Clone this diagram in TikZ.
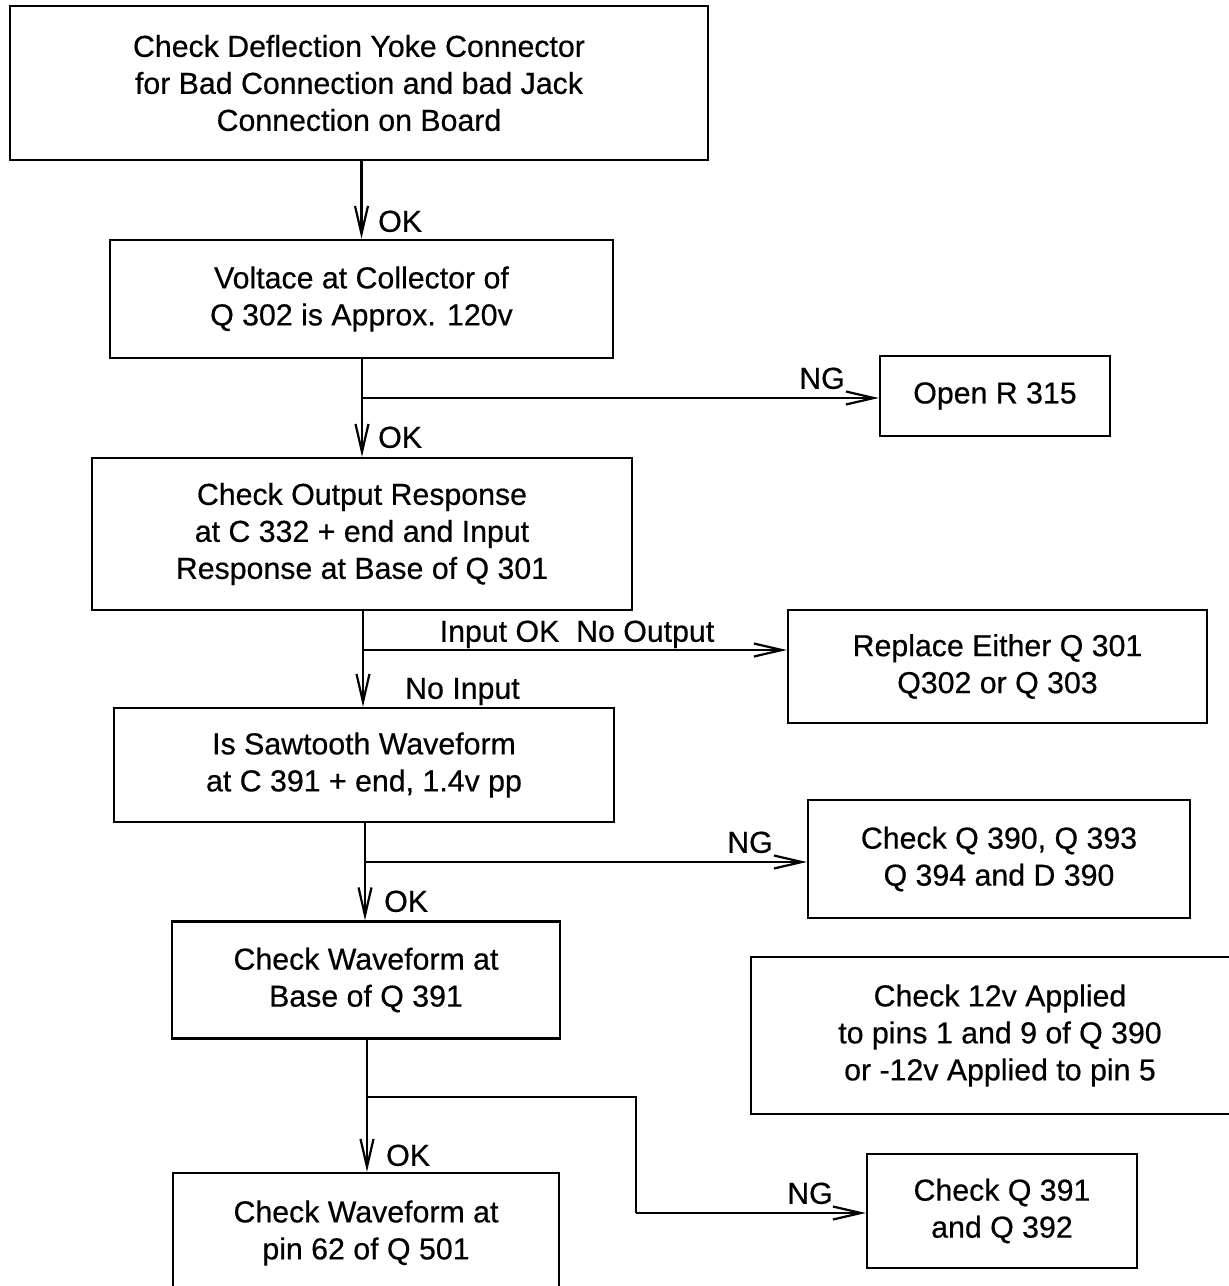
\documentclass[tikz,border=0pt]{standalone}
\usepackage{fontspec}
\setmainfont{Liberation Sans}[UprightFeatures={FakeBold=0.5}]
\usetikzlibrary{arrows.meta}
\begin{document}
\begin{tikzpicture}[x=1pt,y=-1pt,
  box/.style={draw, line width=2.4pt, rectangle, inner sep=0pt, align=center,
    font=\fontsize{30.3}{37}\selectfont,
    execute at begin node={\vspace*{6pt}}},
  lbl/.style={inner sep=0pt, text height=21.5pt, text depth=0pt,
    font=\fontsize{30.3}{37}\selectfont},
  wire/.style={line width=2.2pt},
  arr/.style={wire, -{Straight Barb[length=28pt,width=13pt]}}]
\useasboundingbox (0,0) rectangle (1229,1286);
\clip (0,0) rectangle (1229,1286);

% main column of checks
\node[box, minimum width=698pt, minimum height=154pt] (b1) at (359,83)
  {Check Deflection Yoke Connector\\for Bad Connection and bad Jack\\Connection on Board};
\node[box, minimum width=503pt, minimum height=118pt] (b2) at (361.5,299)
  {Voltace at Collector of\\Q 302 is Approx. 120v};
\node[box, minimum width=540pt, minimum height=152pt] (b3) at (362,534)
  {Check Output Response\\at C 332 + end and Input\\Response at Base of Q 301};
\node[box, minimum width=500pt, minimum height=114pt] (b4) at (364,765)
  {Is Sawtooth Waveform\\at C 391 + end, 1.4v pp};
\node[box, minimum width=388pt, minimum height=117pt] (b5) at (366,980)
  {Check Waveform at\\Base of Q 391};
\node[box, minimum width=386pt, minimum height=120pt] (b6) at (366,1233)
  {Check Waveform at\\pin 62 of Q 501};

% right-hand remedies
\node[box, minimum width=230pt, minimum height=80pt] (r315) at (995,396)
  {Open R 315};
\node[box, minimum width=419pt, minimum height=113pt] (rep) at (997.5,666.5)
  {Replace Either Q 301\\Q302 or Q 303};
\node[box, minimum width=382pt, minimum height=118pt] (q390) at (999,859)
  {Check Q 390, Q 393\\Q 394 and D 390};
\node[box, minimum width=498pt, minimum height=157pt] (c12) at (1000,1035.5)
  {Check 12v Applied\\to pins 1 and 9 of Q 390\\or -12v Applied to pin 5};
\node[box, minimum width=270pt, minimum height=114pt] (q391) at (1002,1211)
  {Check Q 391\\and Q 392};

% branch points
\coordinate (j1) at (362,398);
\coordinate (j2) at (363,650);
\coordinate (j3) at (365,862);
\coordinate (j4) at (367,1097);
\coordinate (k4) at (636,1097);
\coordinate (m4) at (636,1213);

% vertical flow
\draw[arr] (b2.north |- b1.south) -- (b2.north);
\draw[arr] (b3.north |- b2.south) -- (b3.north);
\draw[arr] (j2 |- b3.south) -- (j2 |- b4.north);
\draw[arr] (j3 |- b4.south) -- (j3 |- b5.north);
\draw[arr] (j4 |- b5.south) -- (j4 |- b6.north);

% side branches
\draw[arr] (j1) -- (j1 -| r315.west);
\draw[arr] (j2) -- (j2 -| rep.west);
\draw[arr] (j3) -- (j3 -| q390.west);
\draw[wire] (j4) -- (k4) -- (m4);
\draw[arr] (m4) -- (m4 -| q391.west);

% connector labels
\node[lbl, anchor=west] (ok1) at (378,221) {OK};
\node[lbl, anchor=west] (ok2) at (378,437) {OK};
\node[lbl] (ng1) at (822,378) {NG};
\node[lbl] (inok) at (577,631) {Input OK\ \ No Output};
\node[lbl, anchor=west] (noin) at (405,688) {No Input};
\node[lbl] (ng2) at (750,842) {NG};
\node[lbl, anchor=west] (ok3) at (384,901) {OK};
\node[lbl, anchor=west] (ok4) at (386,1155) {OK};
\node[lbl] (ng3) at (810,1193) {NG};
\end{tikzpicture}
\end{document}
